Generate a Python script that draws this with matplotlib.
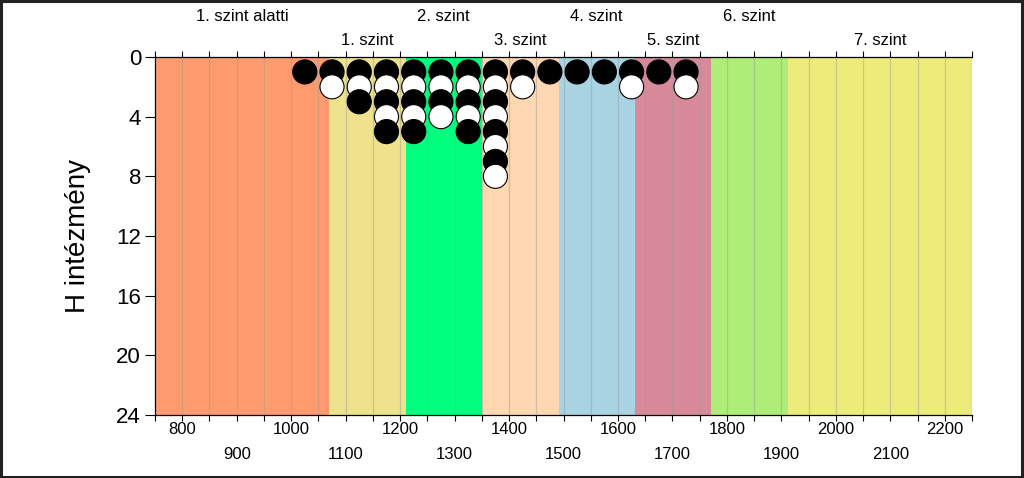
import matplotlib
matplotlib.use('Agg')
import matplotlib.pyplot as plt
import matplotlib.transforms as mtransforms
from matplotlib.patches import Rectangle

plt.rcParams['font.family'] = ['Liberation Sans', 'DejaVu Sans']

# szintek határai és színei
band_edges = [750, 1069, 1210, 1350, 1491, 1631, 1771, 1912, 2250]
band_colors = ['#FF9B6E', '#EEE38C', '#00FF7F', '#FFD7B0',
               '#A8D3E2', '#D98A9A', '#AEEE78', '#EDEC7A']
band_labels = ['1. szint alatti', '1. szint', '2. szint', '3. szint',
               '4. szint', '5. szint', '6. szint', '7. szint']

# intézmények száma pontszám-sávonként
bin_centers = [1025, 1075, 1125, 1175, 1225, 1275, 1325, 1375,
               1425, 1475, 1525, 1575, 1625, 1675, 1725]
counts = [1, 2, 3, 5, 5, 4, 5, 8, 2, 1, 1, 1, 2, 1, 2]

major_ticks = list(range(800, 2201, 200))
minor_ticks = list(range(750, 2251, 50))
y_ticks = [0, 4, 8, 12, 16, 20, 24]

fig = plt.figure(figsize=(10.24, 4.78), dpi=100)
ax = fig.add_axes([155 / 1024, 1 - 415 / 478, 817 / 1024, 358 / 478])

# színes sávok
for i in range(len(band_colors)):
    ax.axvspan(band_edges[i], band_edges[i + 1], color=band_colors[i], lw=0, zorder=0)

# függőleges rácsvonalak
for xv in minor_ticks[1:]:
    ax.axvline(xv, color='#9A9A9A', alpha=0.45, lw=0.9, zorder=1)

# pontok: fekete és fehér váltakozva oszloponként
xs, ys, cs = [], [], []
for x, n in zip(bin_centers, counts):
    for k in range(n):
        xs.append(x)
        ys.append(k + 1)
        cs.append('black' if k % 2 == 0 else 'white')
ax.scatter(xs, ys, s=300, c=cs, edgecolors='black', linewidths=0.8,
           zorder=3, clip_on=False)

ax.set_xlim(750, 2250)
ax.set_ylim(24, 0)

# szint feliratok két sorban
trans = mtransforms.blended_transform_factory(ax.transData, ax.transAxes)
for i, lab in enumerate(band_labels):
    xc = (band_edges[i] + band_edges[i + 1]) / 2
    yy = 1.112 if i % 2 == 0 else 1.045
    ax.text(xc, yy, lab, transform=trans, ha='center', va='center', fontsize=12)

# x tengely: páros százasok felül, páratlanok alul
ax.set_xticks(major_ticks)
ax.set_xticklabels([str(v) for v in major_ticks], fontsize=12)
ax.set_xticks(minor_ticks, minor=True)
ax.set_xticklabels([str(v) if (v % 200 == 100) else '' for v in minor_ticks],
                   minor=True, fontsize=12)
ax.tick_params(axis='x', which='major', direction='out', length=4, width=0.8,
               pad=1, top=True, bottom=True)
ax.tick_params(axis='x', which='minor', direction='out', length=4, width=0.8,
               pad=19, top=True, bottom=True)
ax.grid(False)

ax.set_yticks(y_ticks)
ax.set_yticklabels([str(v) for v in y_ticks], fontsize=16)
ax.tick_params(axis='y', direction='out', length=7, width=0.8, pad=3)
ax.set_ylabel('H intézmény', fontsize=20)
ax.yaxis.set_label_coords(-0.078, 0.5)

ax.spines['right'].set_visible(False)
for s in ['left', 'top', 'bottom']:
    ax.spines[s].set_linewidth(0.9)

# keret a kép körül
fig.patches.append(Rectangle((0.001, 0.002), 0.997, 0.995, transform=fig.transFigure,
                             fill=False, edgecolor='#222222', lw=2.2))

fig.savefig('out.png', dpi=100)
